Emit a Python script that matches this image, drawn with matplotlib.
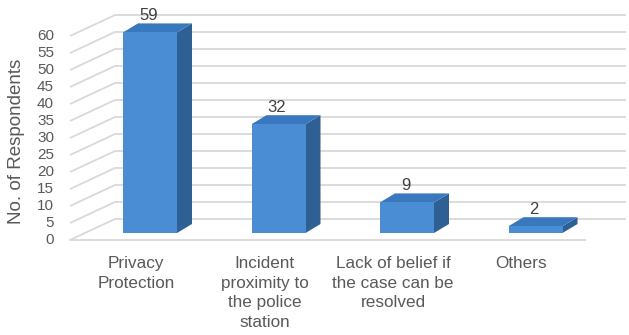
import matplotlib
matplotlib.use("Agg")
import matplotlib.pyplot as plt
from matplotlib.patches import Polygon

# ---- data ----
categories = ["Privacy\nProtection", "Incident\nproximity to\nthe police\nstation",
              "Lack of belief if\nthe case can be\nresolved", "Others"]
values = [59, 32, 9, 2]
yticks = list(range(0, 61, 5))
ylabel = "No. of Respondents"

# ---- layout (pixel geometry converted to data units) ----
W, H, DPI = 629, 335, 100
PX_X = 128.5          # pixels per category step
PX_Y = 3.4            # pixels per value unit
X0, Y0 = 136, 240     # pixel position of category 0 / value 0 on the front floor

def ux(px):  # pixel distance -> x data units
    return px / PX_X

def vy(px):  # pixel distance -> y data units
    return px / PX_Y

fig = plt.figure(figsize=(W / DPI, H / DPI), dpi=DPI)
ax = fig.add_axes([0, 0, 1, 1])
ax.set_xlim(-X0 / PX_X, (W - X0) / PX_X)
ax.set_ylim(-(H - Y0) / PX_Y, Y0 / PX_Y)
ax.axis("off")

font = ["Liberation Sans", "DejaVu Sans"]
grid_c = "#d9d9d9"
text_c = "#595959"

wall_dx, wall_dy = ux(45), vy(21)
front_x0 = ux(70 - X0)
back_x1 = ux(626 - X0)
floor_x1 = ux(585 - X0)

# gridlines: slanted side wall part + horizontal back wall part
for t in yticks:
    ax.plot([front_x0, front_x0 + wall_dx, back_x1], [t, t + wall_dy, t + wall_dy],
            color=grid_c, lw=1.3, zorder=1, solid_capstyle="butt")
    ax.text(ux(54 - X0), t, str(t), ha="right", va="center", fontsize=11,
            color=text_c, family=font)
# front floor edge
ax.plot([front_x0, floor_x1], [0, 0], color=grid_c, lw=1.3, zorder=1)

# bars
bar_w = ux(54)
bar_off_x, bar_base = ux(14), vy(7)
dep_dx, dep_dy = ux(15), vy(9)
c_front, c_side, c_top = "#4a8dd4", "#2f6094", "#3a78bd"
for i, v in enumerate(values):
    x0 = i + bar_off_x - bar_w / 2
    x1 = x0 + bar_w
    b = bar_base
    t = b + v
    ax.add_patch(Polygon([(x1, b), (x1 + dep_dx, b + dep_dy), (x1 + dep_dx, t + dep_dy), (x1, t)],
                         closed=True, fc=c_side, ec="none", zorder=3))
    ax.add_patch(Polygon([(x0, t), (x0 + dep_dx, t + dep_dy), (x1 + dep_dx, t + dep_dy), (x1, t)],
                         closed=True, fc=c_top, ec="none", zorder=3))
    ax.add_patch(Polygon([(x0, b), (x1, b), (x1, t), (x0, t)],
                         closed=True, fc=c_front, ec="none", zorder=4))
    ax.annotate(str(v), xy=(i + bar_off_x, t + dep_dy), xytext=(-1, 0),
                textcoords="offset points", ha="center", va="bottom",
                fontsize=12, color="#404040", family=font)

# category labels
for i, c in enumerate(categories):
    ax.text(i, -vy(16), c, ha="center", va="top", fontsize=12.3, color=text_c,
            family=font, linespacing=1.38, multialignment="center")

# y axis title
ax.text(ux(17 - X0), vy(240 - 141), ylabel, rotation=90, ha="center", va="center",
        fontsize=13.5, color=text_c, family=font)

fig.savefig("out.png", dpi=DPI)
